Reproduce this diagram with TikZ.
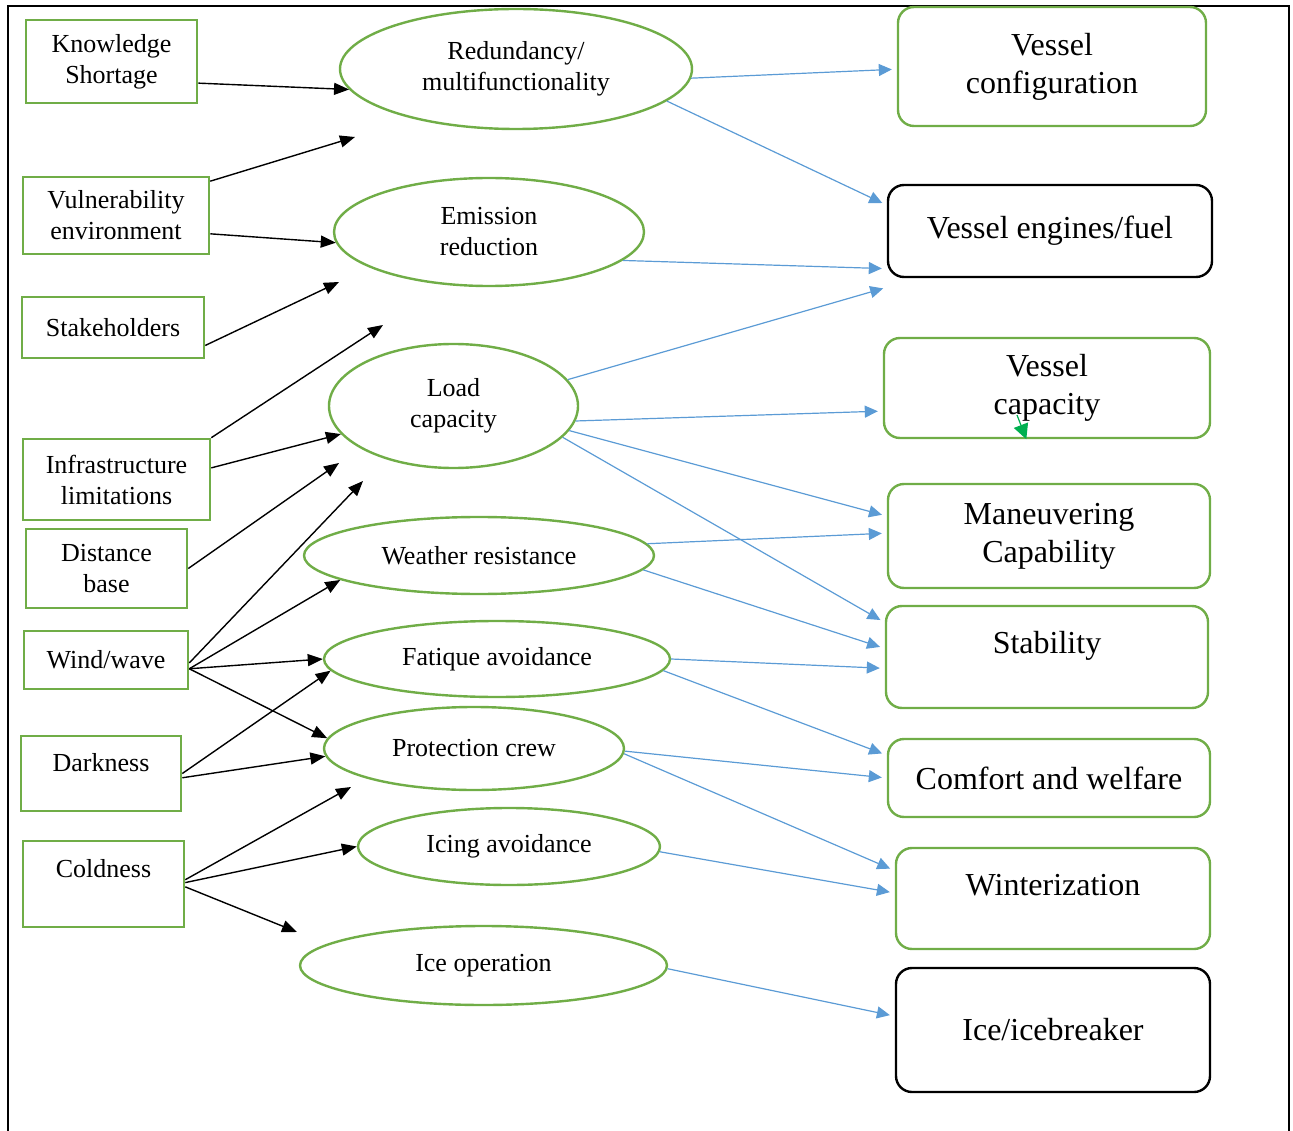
\documentclass[tikz,border=0pt]{standalone}
\usepackage{fontspec}
\setmainfont{Liberation Serif}
\usepackage{tikz}
\usetikzlibrary{shapes.geometric, arrows.meta}
\definecolor{boxgreen}{HTML}{70AD47}
\definecolor{arrowblue}{HTML}{5B9BD5}
\definecolor{markgreen}{HTML}{00B050}
\tikzset{
x=1pt, y=-1pt, % pixel-like units, y runs downwards
cause/.style={draw=boxgreen, line width=2.6pt, inner sep=0pt, align=center, font=\fontsize{26}{31}\selectfont}, % left column boxes
need/.style={ellipse, draw=boxgreen, line width=2.4pt, inner sep=0pt, align=center, font=\fontsize{26}{31}\selectfont}, % middle column ellipses
design/.style={rounded corners=16pt, draw=boxgreen, line width=2.4pt, inner sep=0pt, align=center, font=\fontsize{32}{38}\selectfont}, % right column boxes
blk/.style={-{Triangle[length=15pt, width=12pt]}, line width=1.4pt}, % black arrows
blu/.style={draw=arrowblue, -{Triangle[length=13pt, width=12pt]}, line width=1.2pt, shorten >=5pt}, % blue arrows
greenmark/.style={draw=markgreen, -{Triangle[length=15pt, width=15pt]}, line width=1.2pt},
}
\begin{document}
\begin{tikzpicture}
\useasboundingbox (0,0) rectangle (1293,1131);
\draw[line width=2pt] (8,1131) -- (8,6) -- (1289,6) -- (1289,1131);

% left column
\node[cause, minimum width=171pt, minimum height=83pt] (ks) at (111.5,61.5) {Knowledge\\Shortage};
\node[cause, minimum width=186pt, minimum height=77pt] (vul) at (116,215.5) {Vulnerability\\environment};
\node[cause, minimum width=182pt, minimum height=61pt] (stk) at (113,327.5) {Stakeholders};
\node[cause, minimum width=187pt, minimum height=81pt] (inf) at (116.5,479.5) {Infrastructure\\limitations};
\node[cause, minimum width=161pt, minimum height=79pt] (dist) at (106.5,568.5) {Distance\\base};
\node[cause, minimum width=164pt, minimum height=58pt] (wind) at (106,660) {Wind/wave};
\node[cause, minimum width=160pt, text height=35pt, text depth=40pt] (dark) at (101,773.5) {Darkness};
\node[cause, minimum width=161pt, text height=36pt, text depth=50pt] (cold) at (103.5,884) {Coldness};

% middle column
\node[need, minimum width=352pt, minimum height=120pt] (red) at (516,69) {Redundancy/\\multifunctionality};
\node[need, minimum width=310pt, minimum height=108pt] (emi) at (489,232) {Emission\\reduction};
\node[need, minimum width=249pt, minimum height=124pt] (load) at (453.5,406) {Load\\capacity};
\node[need, minimum width=350pt, minimum height=77pt] (wea) at (479,555.5) {Weather resistance};
\node[need, minimum width=346pt, minimum height=76pt] (fat) at (497,659) {Fatique avoidance};
\node[need, minimum width=300pt, minimum height=83pt] (pro) at (474,748.5) {Protection crew};
\node[need, minimum width=302pt, minimum height=77pt] (icing) at (509,846.5) {Icing avoidance};
\node[need, minimum width=367pt, minimum height=79pt] (iceop) at (483.5,965.5) {Ice operation};

% right column
\node[design, minimum width=308pt, minimum height=119pt] (cfg) at (1052,66.5) {Vessel\\configuration};
\node[design, draw=black, minimum width=324pt, minimum height=92pt] (eng) at (1050,231) {Vessel engines/fuel};
\node[design, minimum width=326pt, minimum height=100pt] (cap) at (1047,388) {Vessel\\capacity};
\node[design, minimum width=322pt, minimum height=104pt] (man) at (1049,536) {Maneuvering\\Capability};
\node[design, minimum width=322pt, text height=47pt, text depth=55pt] (stab) at (1047,657) {Stability};
\node[design, minimum width=322pt, minimum height=78pt] (comf) at (1049,778) {Comfort and welfare};
\node[design, minimum width=314pt, text height=47pt, text depth=54pt] (wint) at (1053,898.5) {Winterization};
\node[design, draw=black, minimum width=314pt, minimum height=124pt] (ice) at (1053,1030) {Ice/icebreaker};

% loose arrow ends
\coordinate (vulend) at (355,137);
\coordinate (stkend) at (339,282);
\coordinate (infend) at (383,325);
\coordinate (distend) at (339,463);
\coordinate (windend) at (363,481);
\coordinate (coldend) at (351,787);
\coordinate (iceend) at (297,932);
\coordinate (engend) at (888,287);
\coordinate (gstart) at (1017,415);

\draw[blk] (ks.-14) -- (red.187);
\draw[blk] (vul.20) -- (vulend);
\draw[blk] (vul.-11) -- (emi.184);
\draw[blk] (stk.-11) -- (stkend);
\draw[blk] (inf.north east) -- (infend);
\draw[blk] (inf.7) -- (load.194);
\draw[blk] (dist.east) -- (distend);
\draw[blk] (wind.-2) -- (windend);
\draw[blk] (wind.-6) -- (wea.190);
\draw[blk] (wind.-6) -- (fat.west);
\draw[blk] (wind.-6) -- (pro.176);
\draw[blk] (dark.east) -- (fat.184);
\draw[blk] (dark.-3) -- (pro.183);
\draw[blk] (cold.3) -- (coldend);
\draw[blk] (cold.1) -- (icing.west);
\draw[blk] (cold.-2) -- (iceend);

\draw[blu] (red.-3) -- (cfg.181);
\draw[blu] (red.-12) -- (eng.171);
\draw[blu] (emi.-12) -- (eng.193);
\draw[blu] (load.13) -- (engend);
\draw[blu] (load.-7) -- (cap.188);
\draw[blu] (load.-12) -- (man.173);
\draw[blu] (load.-16) -- (stab.168);
\draw[blu] (wea.4) -- (man.179);
\draw[blu] (wea.-5) -- (stab.177);
\draw[blu] (fat.0) -- (stab.184);
\draw[blu] (fat.-4) -- (comf.172);
\draw[blu] (pro.-1) -- (comf.west);
\draw[blu] (pro.-2) -- (wint.170);
\draw[blu] (icing.-2) -- (wint.178);
\draw[blu] (iceop.-1) -- (ice.175);

\draw[greenmark] (gstart) -- (cap.-112);
\end{tikzpicture}
\end{document}
